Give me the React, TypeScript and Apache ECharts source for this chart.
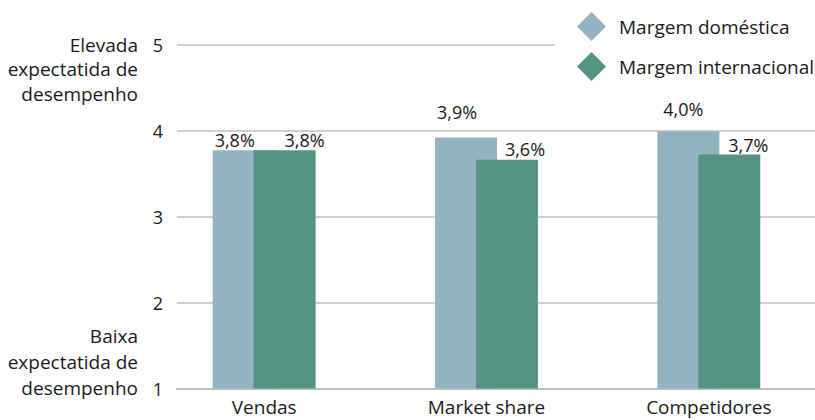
import React, { useEffect, useRef } from "react";
import * as echarts from "echarts";

const categories = ["Vendas", "Market share", "Competidores"];
const seriesNames = ["Margem doméstica", "Margem internacional"];
const domestic = [3.77, 3.92, 3.99];
const international = [3.77, 3.66, 3.72];
const domesticLabels = ["3,8%", "3,9%", "4,0%"];
const internationalLabels = ["3,8%", "3,6%", "3,7%"];
const yMin = 1;
const yMax = 5;
const topAxisNote = "Elevada\nexpectatida de\ndesempenho";
const bottomAxisNote = "Baixa\nexpectatida de\ndesempenho";

// layout-only constants (label nudges, like manually placed labels)
const domesticOffsets = [[-9, -1], [-9, -16], [-5, -13]];
const internationalOffsets = [[20, -1], [18, -2], [19, -1]];

const FONT = "Open Sans";
const TEXT = "#1a1a1a";
const BLUE = "#92b3bf";
const GREEN = "#559483";
const GRIDC = "#bfbfbf";
const CHART_W = 830;

export default function App() {
  const ref = useRef<HTMLDivElement>(null);
  useEffect(() => {
    if (!ref.current) return;
    const chart = echarts.init(ref.current, undefined, { renderer: "svg" });
    const mk = (vals: number[], offs: number[][]) =>
      vals.map((v, i) => ({ value: v, label: { offset: offs[i] } }));
    const labelStyle = {
      show: true,
      position: "top",
      distance: 0,
      fontSize: 18,
      fontFamily: FONT,
      color: TEXT,
    };
    chart.setOption({
      animation: false,
      textStyle: { fontFamily: FONT, color: TEXT },
      grid: [
        { left: 177, right: CHART_W - 815, top: 44.5, bottom: 31.5 },
        { left: 153, right: CHART_W - 820, top: 44.5, bottom: 31.5 },
      ],
      legend: {
        orient: "vertical",
        left: 555,
        top: 0,
        backgroundColor: "#ffffff",
        padding: [12, 10, 6, 22],
        icon: "diamond",
        itemWidth: 29,
        itemHeight: 29,
        itemGap: 11,
        data: seriesNames,
        textStyle: { fontSize: 19, fontFamily: FONT, color: TEXT, padding: [0, 0, 0, 8] },
      },
      xAxis: [
        {
          gridIndex: 0,
          type: "category",
          data: categories,
          axisLabel: { show: false },
          axisTick: { show: false },
          axisLine: { lineStyle: { color: GRIDC, width: 2 } },
        },
        {
          gridIndex: 1,
          type: "category",
          data: categories,
          axisLine: { show: false },
          axisTick: { show: false },
          axisLabel: {
            fontSize: 19,
            lineHeight: 18,
            fontFamily: FONT,
            color: TEXT,
            margin: 9,
          },
        },
      ],
      yAxis: [
        {
          gridIndex: 0,
          type: "value",
          min: yMin,
          max: yMax,
          interval: 1,
          axisLine: { show: false },
          axisTick: { show: false },
          axisLabel: { fontSize: 18, fontFamily: FONT, color: TEXT, margin: 14 },
          splitLine: { lineStyle: { color: GRIDC, width: 1.5 } },
        },
        { gridIndex: 1, type: "value", min: yMin, max: yMax, interval: 1, show: false },
      ],
      series: [
        {
          name: seriesNames[0],
          type: "bar",
          xAxisIndex: 1,
          yAxisIndex: 1,
          barWidth: 62,
          barGap: "-34%",
          itemStyle: { color: BLUE },
          data: mk(domestic, domesticOffsets),
          label: {
            ...labelStyle,
            formatter: (p: any) => domesticLabels[p.dataIndex],
          },
        },
        {
          name: seriesNames[1],
          type: "bar",
          xAxisIndex: 1,
          yAxisIndex: 1,
          barWidth: 62,
          barGap: "-34%",
          itemStyle: { color: GREEN },
          data: mk(international, internationalOffsets),
          label: {
            ...labelStyle,
            formatter: (p: any) => internationalLabels[p.dataIndex],
          },
        },
      ],
      graphic: [
        {
          type: "text",
          x: 138,
          y: 32.5,
          style: {
            text: topAxisNote,
            align: "right",
            verticalAlign: "top",
            lineHeight: 24.5,
            fontSize: 19,
            fontFamily: FONT,
            fill: TEXT,
          },
        },
        {
          type: "text",
          x: 138,
          y: 323,
          style: {
            text: bottomAxisNote,
            align: "right",
            verticalAlign: "top",
            lineHeight: 26,
            fontSize: 19,
            fontFamily: FONT,
            fill: TEXT,
          },
        },
      ],
    });
    return () => chart.dispose();
  }, []);
  return (
    <div
      style={{
        position: "absolute",
        left: 0,
        top: 0,
        width: 815,
        height: 420,
        overflow: "hidden",
      }}
    >
      <div ref={ref} style={{ width: CHART_W, height: 420 }} />
    </div>
  );
}
